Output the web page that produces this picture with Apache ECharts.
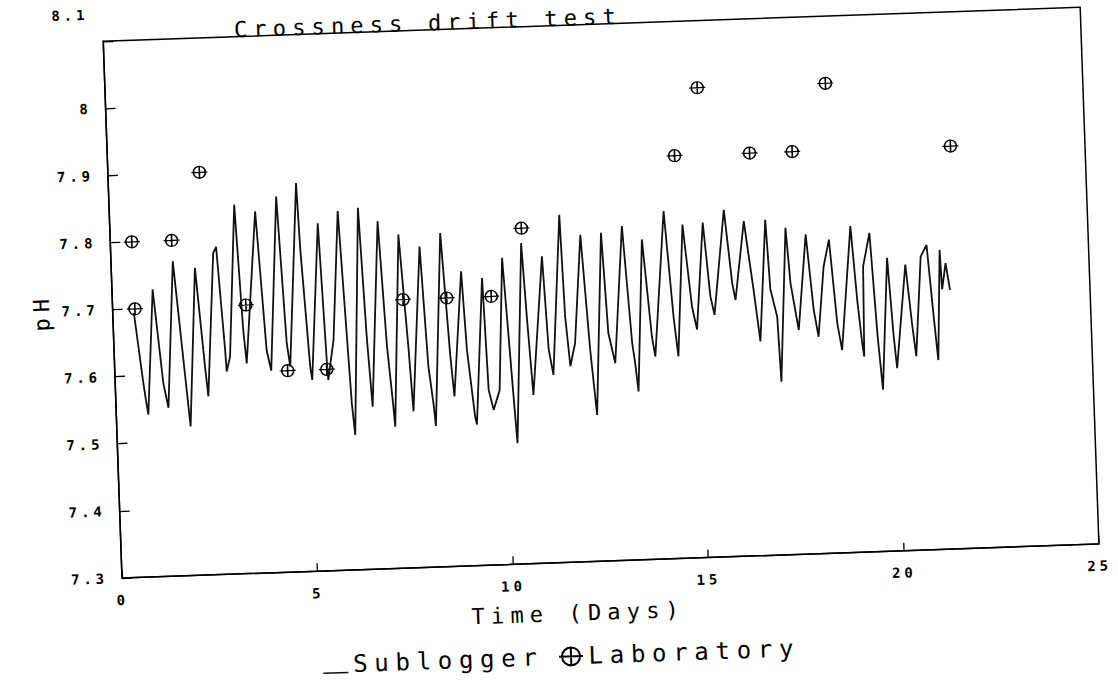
<!DOCTYPE html>
<html>
<head>
<meta charset="utf-8">
<script src="https://cdn.jsdelivr.net/npm/echarts@6/dist/echarts.min.js"></script>
<style>
html,body{margin:0;padding:0;background:#fff;overflow:hidden;width:1118px;height:683px;}
#chart{position:absolute;left:0;top:0;width:1118px;height:700px;transform:rotate(-2deg);transform-origin:122px 578px;}
#chart svg text{letter-spacing:0.28em;}
</style>
</head>
<body>
<div id="chart"></div>
<script>
const titleText = 'Crossness drift test';
const xAxisName = 'Time (Days)';
const yAxisName = 'pH';
const seriesNames = ['Sublogger', 'Laboratory'];

const subloggerTime = [0.54,0.72,0.77,0.82,1.04,1.23,1.34,1.58,1.82,1.89,2.14,2.31,2.37,2.62,2.70,2.84,2.86,2.96,3.20,3.32,3.38,3.73,3.90,4.00,4.28,4.42,4.49,4.80,4.85,5.00,5.04,5.32,5.43,5.45,5.62,5.84,6.03,6.09,6.36,6.47,6.56,6.85,6.98,7.09,7.12,7.37,7.53,7.60,7.90,8.02,8.12,8.16,8.44,8.59,8.66,8.94,9.02,9.17,9.21,9.47,9.54,9.65,9.82,10.00,10.17,10.23,10.50,10.58,10.68,11.02,11.11,11.21,11.50,11.56,11.65,11.79,12.02,12.17,12.29,12.55,12.65,12.80,13.09,13.25,13.31,13.37,13.59,13.76,13.83,14.17,14.33,14.42,14.64,14.81,14.92,15.16,15.29,15.38,15.71,15.86,15.93,16.21,16.40,16.53,16.76,16.83,16.98,17.03,17.27,17.35,17.52,17.78,17.92,18.02,18.21,18.37,18.51,18.61,18.93,19.04,19.13,19.17,19.22,19.41,19.53,19.62,19.84,19.94,20.00,20.30,20.42,20.50,20.70,20.86,20.98,21.06,21.19,21.22,21.33,21.42];
const subloggerPH = [7.694,7.589,7.564,7.542,7.728,7.588,7.551,7.769,7.577,7.522,7.758,7.611,7.566,7.779,7.788,7.634,7.602,7.624,7.850,7.663,7.613,7.839,7.632,7.601,7.860,7.641,7.606,7.879,7.780,7.605,7.585,7.818,7.609,7.584,7.644,7.835,7.548,7.501,7.839,7.647,7.542,7.818,7.631,7.541,7.511,7.797,7.625,7.533,7.778,7.599,7.542,7.510,7.797,7.613,7.553,7.739,7.622,7.522,7.510,7.728,7.561,7.531,7.560,7.757,7.550,7.480,7.778,7.668,7.551,7.757,7.618,7.580,7.818,7.666,7.592,7.626,7.787,7.616,7.518,7.789,7.639,7.594,7.798,7.623,7.593,7.551,7.777,7.632,7.602,7.818,7.661,7.601,7.797,7.675,7.640,7.799,7.689,7.661,7.817,7.707,7.682,7.799,7.696,7.619,7.800,7.696,7.655,7.558,7.787,7.704,7.634,7.776,7.663,7.623,7.727,7.767,7.642,7.602,7.786,7.676,7.611,7.591,7.725,7.775,7.620,7.541,7.737,7.620,7.572,7.726,7.638,7.589,7.737,7.754,7.647,7.582,7.746,7.687,7.726,7.686];

const labTime = [0.55,0.57,1.57,2.34,3.41,4.42,5.42,7.43,8.55,9.69,10.52,14.50,15.14,16.42,17.51,18.42,21.56];
const labPH = [7.80,7.70,7.80,7.90,7.70,7.60,7.60,7.70,7.70,7.70,7.80,7.90,8.00,7.90,7.90,8.00,7.90];

const mono = 'DejaVu Sans Mono';
const labSymbol = 'path://M-6,0A6,6 0 1,0 6,0A6,6 0 1,0 -6,0ZM-8,0L8,0M0,-6L0,6';

const chart = echarts.init(document.getElementById('chart'), null, {renderer: 'svg', width: 1118, height: 700});
chart.setOption({
  animation: false,
  backgroundColor: '#fff',
  title: {
    text: titleText, left: 248, top: 18,
    textStyle: {fontFamily: mono, fontSize: 22, fontWeight: 'normal', color: '#000'}
  },
  legend: {
    left: 315, top: 655,
    itemWidth: 25, itemHeight: 18, itemGap: 75,
    textStyle: {fontFamily: mono, fontSize: 24, color: '#000'},
    data: [
      {name: seriesNames[0], icon: 'path://M0,0L0,0M0,16.5L25,16.5L25,18L0,18Z'},
      {name: seriesNames[1]}
    ]
  },
  grid: {left: 122, right: 18.5, top: 41, bottom: 122, containLabel: false, outerBoundsMode: 'none',
         show: true, borderColor: '#000', borderWidth: 1.5, backgroundColor: 'transparent'},
  xAxis: {
    type: 'value', min: 0, max: 25, interval: 5,
    name: xAxisName, nameLocation: 'middle', nameGap: 40,
    nameTextStyle: {fontFamily: mono, fontSize: 22, color: '#000', padding: [0, 68, 0, 0]},
    axisLine: {show: true, lineStyle: {color: '#000', width: 1.5}},
    axisTick: {show: true, inside: true, length: 8, lineStyle: {color: '#000', width: 1.3}},
    axisLabel: {fontFamily: mono, fontSize: 14, fontWeight: 'bold', color: '#000', margin: 15},
    splitLine: {show: false}
  },
  yAxis: {
    type: 'value', min: 7.3, max: 8.1, interval: 0.1,
    name: yAxisName, nameLocation: 'middle', nameGap: 60, nameRotate: 90,
    nameTextStyle: {fontFamily: mono, fontSize: 22, color: '#000'},
    axisLine: {show: true, lineStyle: {color: '#000', width: 1.5}},
    axisTick: {show: true, inside: true, length: 10, lineStyle: {color: '#000', width: 1.3}},
    axisLabel: {
      fontFamily: mono, fontSize: 14, fontWeight: 'bold', color: '#000', margin: 14,
      formatter: function (v) {
        const s = String(Math.round(v * 10) / 10);
        return Math.abs(v - 8.1) < 1e-6 ? '{hi|' + s + '}' : s;
      },
      rich: {hi: {fontFamily: mono, fontSize: 14, fontWeight: 'bold', color: '#000', padding: [0, 0, 54, 0]}}
    },
    splitLine: {show: false}
  },
  series: [
    {
      name: seriesNames[0], type: 'line',
      data: subloggerTime.map((t, i) => [t, subloggerPH[i]]),
      showSymbol: false, symbol: 'none',
      lineStyle: {color: '#111', width: 1.8},
      itemStyle: {color: '#111'}
    },
    {
      name: seriesNames[1], type: 'scatter',
      data: labTime.map((t, i) => [t, labPH[i]]),
      symbol: labSymbol, symbolSize: [16, 12],
      itemStyle: {color: 'rgba(0,0,0,0)', borderColor: '#000', borderWidth: 1.4, opacity: 1}
    }
  ]
});
</script>
</body>
</html>
